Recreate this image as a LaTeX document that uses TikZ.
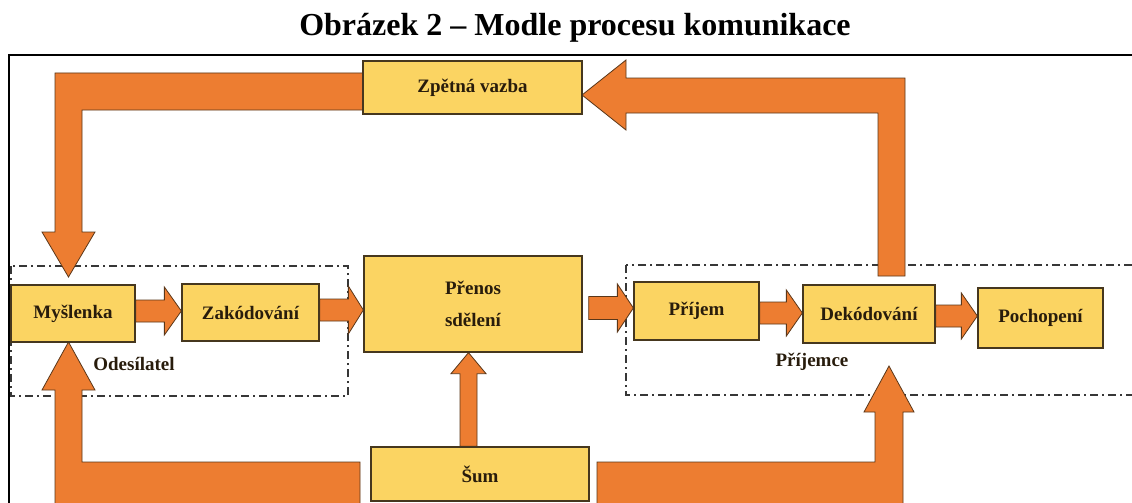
\documentclass[tikz,border=0pt]{standalone}
\usepackage{fontspec}
\setmainfont{Liberation Serif}
\usetikzlibrary{calc}
\pgfdeclarelayer{bg}
\pgfsetlayers{bg,main}
\definecolor{arrowfill}{RGB}{237,125,49}
\definecolor{arrowline}{RGB}{90,55,25}
\definecolor{boxfill}{RGB}{251,212,98}
\definecolor{boxline}{RGB}{70,55,30}
\definecolor{txt}{RGB}{40,28,12}
\definecolor{dashcol}{RGB}{55,55,55}
\newcommand\hblk[6]{%
 \path[blk] let \p1=(#1), \p2=(#2) in
 (\x1,{-(#3-#4)*1pt}) -- ({\x2-#6*1pt},{-(#3-#4)*1pt}) -- ({\x2-#6*1pt},{-(#3-#5)*1pt}) -- (\x2,{-#3*1pt}) -- ({\x2-#6*1pt},{-(#3+#5)*1pt}) -- ({\x2-#6*1pt},{-(#3+#4)*1pt}) -- (\x1,{-(#3+#4)*1pt}) -- cycle;}
\newcommand\ublk[6]{%
 \path[blk] let \p1=(#1), \p2=(#2) in
 ({(#3-#4)*1pt},\y1) -- ({(#3-#4)*1pt},{\y2-#6*1pt}) -- ({(#3-#5)*1pt},{\y2-#6*1pt}) -- ({#3*1pt},\y2) -- ({(#3+#5)*1pt},{\y2-#6*1pt}) -- ({(#3+#4)*1pt},{\y2-#6*1pt}) -- ({(#3+#4)*1pt},\y1) -- cycle;}
\tikzset{
 blk/.style={fill=arrowfill, draw=arrowline, line width=0.8pt, line join=miter},
 box/.style={draw=boxline, fill=boxfill, line width=1.3pt, inner sep=0pt, text=txt, align=center, font=\fontsize{19}{24}\selectfont\bfseries},
 lbl/.style={inner sep=0pt, text=txt, font=\fontsize{19}{24}\selectfont\bfseries},
 grp/.style={draw=dashcol, line width=1.2pt, dash pattern=on 8pt off 4pt on 2pt off 4pt},
}
\begin{document}
\begin{tikzpicture}[x=1pt,y=-1pt]
\useasboundingbox (0,0) rectangle (1132,503);
\begin{pgfonlayer}{bg}
\fill[white] (0,0) rectangle (1132,503);
\end{pgfonlayer}
% title
\node[anchor=base, inner sep=0pt, font=\fontsize{32}{38}\selectfont\bfseries] (title) at (575,36) {Obrázek 2 – Modle procesu komunikace};
% frame
\draw[line width=2pt] (1140,55) -- (9,55) -- (9,510);
% boxes
\node[box, minimum width=219, minimum height=53] (zpet) at (472.5,87.5) {Zpětná vazba};
\node[box, minimum width=124, minimum height=57] (mys) at (73,313.5) {Myšlenka};
\node[box, minimum width=137, minimum height=57] (zak) at (250.5,312.5) {Zakódování};
\node[box, minimum width=218, minimum height=96] (pren) at (473,304) {Přenos\\[8pt]sdělení};
\node[box, minimum width=218, minimum height=54] (sum) at (480,474) {Šum};
\node[box, minimum width=125, minimum height=58] (prij) at (696.5,311) {Příjem};
\node[box, minimum width=132, minimum height=58] (dek) at (869,314) {Dekódování};
\node[box, minimum width=125, minimum height=60] (poch) at (1040.5,318) {Pochopení};
\node[lbl] (odes) at (134,364) {Odesílatel};
\node[lbl] (prijemce) at (812,362) {Příjemce};
\begin{pgfonlayer}{bg}
% groups
\draw[grp] (11,266) rectangle (348,396);
\draw[grp] (626,265) rectangle (1145,395);
% straight block arrows
\hblk{mys.east}{zak.west}{311}{11}{24}{17}
\hblk{zak.east}{pren.west}{310}{11}{24}{15}
\hblk{[xshift=6pt]pren.east}{prij.west}{308}{11.5}{24}{16}
\hblk{prij.east}{dek.west}{313}{11}{23}{16}
\hblk{dek.east}{poch.west}{316}{11}{23}{16}
\ublk{sum.north}{pren.south}{468.5}{8.5}{17.5}{21}
% bent arrows
\path[blk] (363,73) -- (55,73) -- (55,232) -- (42,232) -- (68.5,277) -- (95,232) -- (82,232) -- (82,110) -- (363,110) -- cycle;
\path[blk] (878,276) -- (878,113) -- (626,113) -- (626,130) -- (582,95) -- (626,60) -- (626,78) -- (905,78) -- (905,276) -- cycle;
\path[blk] (360,515) -- (360,462) -- (82,462) -- (82,390) -- (95,390) -- (68.5,342) -- (42,390) -- (55,390) -- (55,515) -- cycle;
\path[blk] (597,515) -- (597,462) -- (875,462) -- (875,412) -- (864,412) -- (889,366) -- (914,412) -- (903,412) -- (903,515) -- cycle;
\end{pgfonlayer}
\end{tikzpicture}
\end{document}
